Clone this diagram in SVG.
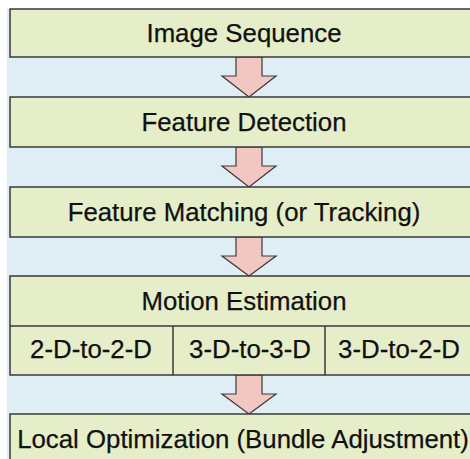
<svg xmlns="http://www.w3.org/2000/svg" width="470" height="459" viewBox="0 0 470 459">
<style>
.box{fill:#e5eec9;stroke:#3a3a3a;stroke-width:1.5}
.div{stroke:#3a3a3a;stroke-width:1.5}
.lbl{font-family:"Liberation Sans",Arial,Helvetica,sans-serif;font-size:25.8px;fill:#111111;stroke:#111111;stroke-width:0.25;text-anchor:middle}
.arrow{fill:#f2c6c1;stroke:#3a3a3a;stroke-width:1.2;stroke-linejoin:miter}
</style>
<rect width="470" height="459" fill="#ffffff"/>
<rect x="7" y="9" width="470" height="460" fill="#dfeef4"/>
<g id="connectors">
<polygon class="arrow" points="236,57 262,57 262,76 276,76 249,97 222,76 236,76"/>
<polygon class="arrow" points="236,147 262,147 262,166 276,166 249,187 222,166 236,166"/>
<polygon class="arrow" points="236,237 262,237 262,256 276,256 249,276 222,256 236,256"/>
<polygon class="arrow" points="236,375 262,375 262,394 276,394 249,414 222,394 236,394"/>
</g>
<g id="image-sequence">
<rect class="box" x="10" y="9" width="470" height="48"/>
<text class="lbl" x="244" y="42">Image Sequence</text>
</g>
<g id="feature-detection">
<rect class="box" x="10" y="97" width="470" height="50"/>
<text class="lbl" x="244" y="131">Feature Detection</text>
</g>
<g id="feature-matching">
<rect class="box" x="10" y="187" width="470" height="50"/>
<text class="lbl" x="244" y="221">Feature Matching (or Tracking)</text>
</g>
<g id="motion-estimation">
<rect class="box" x="10" y="276" width="470" height="99"/>
<line class="div" x1="10" y1="326" x2="480" y2="326"/>
<line class="div" x1="173" y1="326" x2="173" y2="375"/>
<line class="div" x1="325" y1="326" x2="325" y2="375"/>
<text class="lbl" x="244" y="310">Motion Estimation</text>
<text class="lbl" x="91" y="358">2-D-to-2-D</text>
<text class="lbl" x="250" y="358">3-D-to-3-D</text>
<text class="lbl" x="399" y="358">3-D-to-2-D</text>
</g>
<g id="local-optimization">
<rect class="box" x="10" y="414" width="470" height="50"/>
<text class="lbl" x="243" y="448">Local Optimization (Bundle Adjustment)</text>
</g>
</svg>
